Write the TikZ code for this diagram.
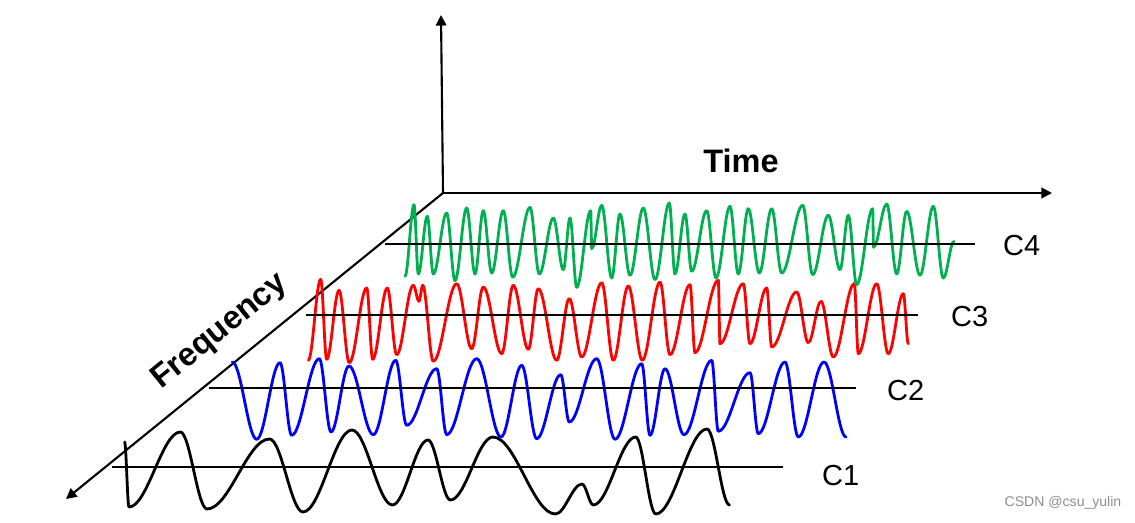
\documentclass[tikz,border=0pt]{standalone}
\usepackage{fontspec}
\setmainfont{Liberation Sans}
\usepackage{xcolor}
\usepackage{tikz}
\usetikzlibrary{arrows.meta}
\definecolor{wavegreen}{RGB}{0,176,80}
\definecolor{wavered}{RGB}{255,0,0}
\definecolor{waveblue}{RGB}{0,0,255}
\definecolor{marktext}{RGB}{140,140,140}
\tikzset{
  axisline/.style={line width=1.2pt,-{Triangle[length=6pt,width=6pt]}},
  zeroline/.style={line width=1.6pt},
  wave/.style={line width=1.6pt,line join=round,line cap=round},
  axislabel/.style={font=\fontsize{18.5}{22}\selectfont\bfseries},
  chanlabel/.style={anchor=west,font=\fontsize{16.5}{20}\selectfont},
}
% one trace: name, colour, start x, start y, list of extrema x/y
\newcommand{\wavetrace}[5]{%
  \coordinate (#1-start) at (#3,#4);%
  \draw[wave,#2] (#1-start)
    \foreach \wX/\wY [remember=\wX as \wPX (initially #3),
                      remember=\wY as \wPY (initially #4)] in {#5}{
      .. controls ({\wPX+0.36*(\wX-\wPX)},\wPY) and ({\wX-0.36*(\wX-\wPX)},\wY) .. (\wX,\wY)
    };%
}

\begin{document}
\begin{tikzpicture}[x=0.02cm,y=-0.02cm]
  \useasboundingbox (0,0) rectangle (1135,523);
  % axes
  \coordinate (origin) at (443,193);
  \coordinate (ztip) at (441,15);
  \coordinate (ttip) at (1052,193);
  \coordinate (ftip) at (66,499);
  \draw[axisline] (origin) -- (ztip);
  \draw[axisline] (origin) -- (ttip);
  \draw[axisline] (origin) -- (ftip);
  \node[axislabel] (timelabel) at (741,161) {Time};
  \node[axislabel,rotate=39] (freqlabel) at (220,332) {Frequency};
  % traces
  \wavetrace{c1wave}{black}{124.6}{442}{129/507, 180.4/432, 207/509, 269.6/439,
    303/512, 352/430, 392.4/505, 428/440, 450.4/500, 492.9/437, 555.4/514,
    582/484, 593.3/505, 635.7/437, 655.8/514, 707/429, 729.5/505}
  \wavetrace{c2wave}{waveblue}{232.3}{362}{256.7/439.3, 280/362.7, 291.7/435.3,
    319.3/358.7, 331/432, 349/366, 373.3/434.7, 395.7/360.3, 406.7/425.3,
    436.7/368.7, 446.7/434.7, 476.7/358.7, 501/437, 521.7/365.3, 536.7/438.7,
    560.7/374.7, 569.3/422, 596.7/358.7, 615/439.3, 641.7/363.7, 650/435.3,
    665/368.7, 684/434.7, 711.7/360.3, 718.3/431.3, 750/372.7, 758.3/433.7,
    785/362, 798.3/437, 824/362, 846/437}
  \wavetrace{c3wave}{wavered}{308.3}{360.3}{320.7/279.3, 326.7/359.3, 339/290.3,
    349.3/362.7, 366.7/288, 372.7/359.3, 387.3/288, 396.7/354.7, 413.3/285.3,
    419/301.3, 422.7/285.3, 433.3/361.3, 456.7/283.7, 471.7/348.7, 483.3/287,
    501.7/353.7, 513.3/285.3, 528.3/349.3, 538.3/288.7, 556.7/360.3, 569.3/298.7,
    581.7/357, 601.7/282.7, 613.3/360.3, 628.3/286, 642.3/360.3, 660/282,
    670/354.7, 690/284.7, 695/352.7, 718.3/280.3, 720/343.7, 743.3/283.7,
    750/343.7, 766.7/288, 771.7/347, 796.7/292, 808.3/342.7, 821/301.3,
    833.3/357, 854.3/283.7, 858.3/353.7, 876.7/283.7, 888.3/353.7, 903.3/293.7,
    908.3/343.7}
  \wavetrace{c4wave}{wavegreen}{405}{276.3}{414/204.7, 418.3/274, 427.3/216.3,
    433.3/274, 446.7/213, 455/280.7, 466.7/208, 475/274, 483.3/210.7,
    491.7/273, 503.3/210.7, 512.7/277.3, 530/207.3, 539.3/274, 553.3/218,
    563.3/269.7, 570/218, 576.7/287.3, 590.7/210.7, 591.7/248.7, 601.7/205.3,
    611.7/278, 620/214, 630/275.3, 643.3/208, 655/279.7, 669.3/203, 675/274,
    685/214, 691.7/271.3, 706.7/210.7, 716/278, 730/206.3, 738.3/274,
    748.3/208.7, 759.3/273, 771.7/208.7, 781.7/273, 802.7/205.3, 812.7/274.7,
    828.3/215.3, 840/269.7, 848.3/215.3, 856.7/284.7, 872.7/208.7, 873.5/247.3,
    886.7/204, 896.7/274, 906.7/211.3, 920/275.3, 933.3/206.3, 943.3/278,
    954/241.3}
  % zero lines and channel labels
  \foreach \cName/\cL/\cR/\cY/\cLx/\cLy in {C1/112/783/467/816/476,
      C2/209/856/388/881/391, C3/306/918/315/945/317, C4/385/975/244/997/246}{
    \coordinate (\cName-left) at (\cL,\cY);
    \coordinate (\cName-right) at (\cR,\cY);
    \draw[zeroline] (\cName-left) -- (\cName-right);
    \node[chanlabel] (\cName-label) at (\cLx,\cLy) {\cName};
  }
  \node[font=\fontsize{8}{10}\selectfont,text=marktext] (mark) at (1063,503) {CSDN @csu\_yulin};
\end{tikzpicture}
\end{document}
